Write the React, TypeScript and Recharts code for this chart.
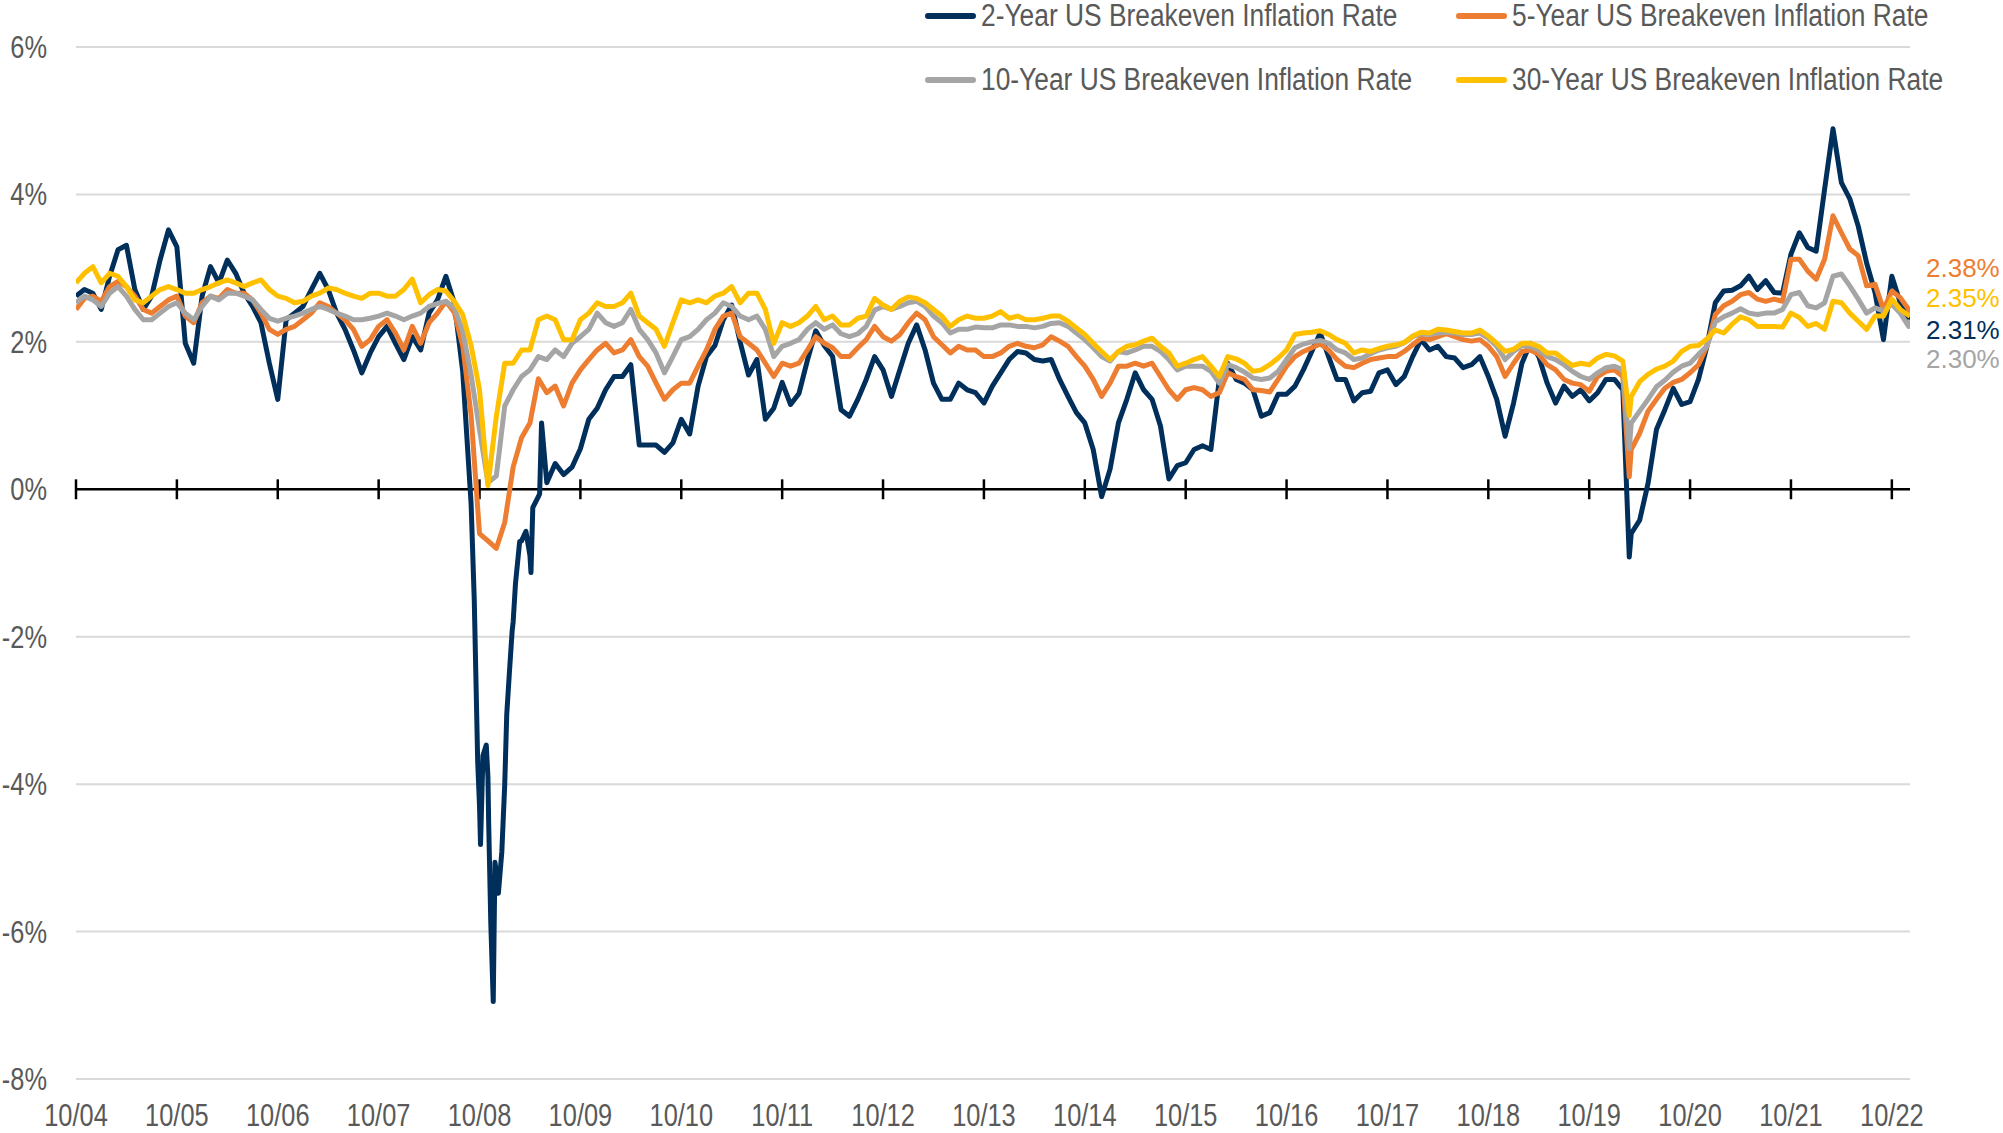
import React from 'react';
import { LineChart, Line, XAxis, YAxis, CartesianGrid, ReferenceLine } from 'recharts';

// month starts, Oct 2004 .. Dec 2022 (decimal years)
const START = 2004.75;
const months = Array.from({ length: 219 }, (_, k) => START + k / 12);

const xTicks = [2004.75, 2005.75, 2006.75, 2007.75, 2008.75, 2009.75, 2010.75, 2011.75, 2012.75, 2013.75, 2014.75, 2015.75, 2016.75, 2017.75, 2018.75, 2019.75, 2020.75, 2021.75, 2022.75];
const xTickLabels = ['10/04', '10/05', '10/06', '10/07', '10/08', '10/09', '10/10', '10/11', '10/12', '10/13', '10/14', '10/15', '10/16', '10/17', '10/18', '10/19', '10/20', '10/21', '10/22'];
const yTicks = [-8, -6, -4, -2, 0, 2, 4, 6];

const be2y = [
  2.62, 2.71, 2.66, 2.44, 2.89, 3.25, 3.31, 2.71, 2.44, 2.62, 3.11, 3.52, 3.29, 1.98, 1.71, 2.62, 3.02, 2.8, 3.11, 2.93,
  2.66, 2.48, 2.26, 1.71, 1.22, 2.3, 2.39, 2.48, 2.71, 2.93, 2.71, 2.39, 2.17, 1.89, 1.58, 1.85, 2.07, 2.21, 1.98, 1.76,
  2.07, 1.89, 2.39, 2.57, 2.89, 2.53, 1.6, -0.2,
  -4.3, -3.9, -5.2, -4.0, -1.8, -0.7, -0.9, -0.1, 0.09, 0.35, 0.2, 0.3, 0.55, 0.95, 1.1, 1.35, 1.53, 1.53, 1.69, 0.6,
  0.6, 0.6, 0.5, 0.63, 0.95, 0.75, 1.4, 1.8, 1.95, 2.3, 2.5, 2.0, 1.55, 1.76, 0.95, 1.1, 1.45, 1.15, 1.3, 1.75, 2.15, 1.95,
  1.8, 1.08, 0.99, 1.22, 1.49, 1.8, 1.62, 1.26, 1.62, 1.98, 2.23, 1.89, 1.44, 1.22, 1.22, 1.44, 1.35, 1.31, 1.17, 1.4,
  1.58, 1.76, 1.87, 1.85, 1.76, 1.74, 1.76, 1.49, 1.26, 1.04, 0.9, 0.54, -0.1, 0.27, 0.9, 1.22, 1.58, 1.35, 1.22, 0.86,
  0.14, 0.32, 0.36, 0.54, 0.59, 0.54, 1.49, 1.71,
  1.49, 1.44, 1.35, 0.99, 1.04, 1.29, 1.29, 1.4, 1.62, 1.87, 2.12, 1.8, 1.49, 1.49, 1.2, 1.31, 1.33, 1.58, 1.62, 1.42,
  1.53, 1.8, 2.03, 1.89, 1.94, 1.8, 1.78, 1.65, 1.69, 1.8, 1.53, 1.22, 0.72, 1.17, 1.71, 1.98, 1.8, 1.44, 1.17, 1.4,
  1.26, 1.35, 1.2, 1.31, 1.49, 1.49, 1.35,
  -0.6, -0.42, 0.08, 0.81, 1.08, 1.37, 1.15, 1.19, 1.49, 1.94, 2.53, 2.69, 2.7, 2.76, 2.89, 2.71, 2.83, 2.67, 2.66, 3.19,
  3.48, 3.28, 3.23, 4.07, 4.89, 4.16, 3.94, 3.57, 3.07, 2.67, 2.03, 2.89, 2.53, 2.3,
];

const be5y = [
  2.44, 2.59, 2.62, 2.55, 2.75, 2.82, 2.75, 2.62, 2.44, 2.39, 2.48, 2.57, 2.62, 2.35, 2.26, 2.53, 2.62, 2.59, 2.71, 2.66,
  2.66, 2.57, 2.39, 2.17, 2.1, 2.17, 2.21, 2.3, 2.39, 2.53, 2.48, 2.39, 2.3, 2.17, 1.94, 2.03, 2.21, 2.3, 2.12, 1.89,
  2.21, 1.98, 2.26, 2.39, 2.55, 2.4, 1.95, 1.0,
  -0.6, -0.7, -0.8, -0.45, 0.3, 0.7, 0.9, 1.5, 1.31, 1.4, 1.13, 1.44, 1.62, 1.76, 1.89, 1.98, 1.85, 1.89, 2.03, 1.8,
  1.67, 1.44, 1.22, 1.35, 1.44, 1.44, 1.67, 1.89, 2.17, 2.35, 2.39, 2.07, 1.98, 1.89, 1.71, 1.53, 1.71, 1.67, 1.71, 1.89,
  2.07, 1.98,
  1.92, 1.8, 1.8, 1.92, 2.03, 2.21, 2.07, 2.01, 2.1, 2.26, 2.39, 2.3, 2.07, 1.96, 1.85, 1.94, 1.89, 1.89, 1.8, 1.8,
  1.85, 1.94, 1.98, 1.94, 1.92, 1.96, 2.07, 2.01, 1.94, 1.8, 1.67, 1.49, 1.26, 1.44, 1.67, 1.67, 1.71, 1.67, 1.71, 1.53,
  1.35, 1.22, 1.35, 1.38, 1.35, 1.26, 1.31, 1.58,
  1.53, 1.49, 1.35, 1.34, 1.32, 1.49, 1.67, 1.8, 1.87, 1.92, 1.97, 1.89, 1.76, 1.67, 1.65, 1.71, 1.76, 1.78, 1.8, 1.8,
  1.87, 1.96, 2.05, 2.03, 2.07, 2.11, 2.07, 2.03, 2.01, 2.03, 1.94, 1.8, 1.53, 1.71, 1.87, 1.89, 1.83, 1.69, 1.62, 1.49,
  1.44, 1.42, 1.33, 1.53, 1.6, 1.62, 1.53,
  0.54, 0.76, 1.06, 1.22, 1.37, 1.45, 1.49, 1.58, 1.69, 1.94, 2.37, 2.49, 2.55, 2.64, 2.67, 2.58, 2.55, 2.58, 2.55, 3.12,
  3.12, 2.96, 2.85, 3.12, 3.71, 3.48, 3.26, 3.17, 2.76, 2.78, 2.44, 2.69, 2.6, 2.44,
];

const be10y = [
  2.53, 2.62, 2.57, 2.48, 2.66, 2.75, 2.62, 2.44, 2.3, 2.3, 2.39, 2.48, 2.53, 2.39, 2.3, 2.48, 2.62, 2.57, 2.66, 2.66,
  2.62, 2.57, 2.44, 2.32, 2.28, 2.32, 2.35, 2.39, 2.44, 2.48, 2.44, 2.39, 2.35, 2.3, 2.3, 2.32, 2.35, 2.39, 2.35, 2.3,
  2.35, 2.39, 2.48, 2.52, 2.55, 2.46, 2.15, 1.55,
  0.81, 0.09, 0.18, 1.13, 1.35, 1.53, 1.62, 1.8, 1.76, 1.89, 1.8, 1.98, 2.07, 2.17, 2.39, 2.26, 2.21, 2.26, 2.44, 2.17,
  2.03, 1.85, 1.58, 1.8, 2.03, 2.07, 2.17, 2.3, 2.39, 2.53, 2.48, 2.35, 2.3, 2.35, 2.17, 1.8, 1.94, 1.98, 2.03, 2.17,
  2.26, 2.17,
  2.23, 2.11, 2.07, 2.11, 2.21, 2.43, 2.48, 2.44, 2.48, 2.53, 2.55, 2.48, 2.35, 2.26, 2.12, 2.17, 2.17, 2.2, 2.19, 2.19,
  2.23, 2.23, 2.21, 2.21, 2.19, 2.21, 2.25, 2.26, 2.21, 2.12, 2.03, 1.92, 1.8, 1.74, 1.87, 1.85, 1.89, 1.94, 1.94, 1.87,
  1.76, 1.62, 1.67, 1.67, 1.67, 1.6, 1.44, 1.69,
  1.65, 1.59, 1.51, 1.49, 1.51, 1.6, 1.76, 1.92, 1.97, 2.0, 2.02, 1.98, 1.89, 1.85, 1.76, 1.78, 1.84, 1.89, 1.92, 1.94,
  1.99, 2.07, 2.11, 2.1, 2.12, 2.13, 2.12, 2.1, 2.1, 2.12, 2.05, 1.94, 1.76, 1.87, 1.95, 1.94, 1.89, 1.8, 1.76, 1.69,
  1.6, 1.53, 1.49, 1.58, 1.65, 1.67, 1.62,
  0.9, 1.06, 1.22, 1.39, 1.48, 1.59, 1.67, 1.71, 1.83, 1.94, 2.27, 2.34, 2.39, 2.45, 2.39, 2.37, 2.39, 2.39, 2.44, 2.64,
  2.67, 2.49, 2.46, 2.53, 2.89, 2.92, 2.76, 2.58, 2.39, 2.46, 2.42, 2.51, 2.39, 2.21,
];

const be30y = [
  2.8, 2.93, 3.02, 2.8, 2.93, 2.89, 2.75, 2.57, 2.53, 2.62, 2.71, 2.75, 2.71, 2.66, 2.66, 2.71, 2.75, 2.8, 2.84, 2.8,
  2.75, 2.8, 2.84, 2.71, 2.62, 2.59, 2.53, 2.55, 2.62, 2.66, 2.73, 2.71, 2.66, 2.62, 2.59, 2.66, 2.66, 2.62, 2.62, 2.71,
  2.85, 2.53, 2.64, 2.71, 2.69, 2.55, 2.37, 1.95,
  1.35, 0.05, 0.99, 1.71, 1.71, 1.89, 1.89, 2.3, 2.35, 2.3, 2.03, 2.03, 2.3, 2.39, 2.53, 2.48, 2.48, 2.53, 2.66, 2.35,
  2.26, 2.17, 1.94, 2.26, 2.57, 2.53, 2.57, 2.53, 2.62, 2.66, 2.75, 2.53, 2.66, 2.66, 2.44, 1.98, 2.26, 2.21, 2.26, 2.35,
  2.48, 2.3,
  2.35, 2.23, 2.23, 2.32, 2.35, 2.59, 2.5, 2.44, 2.55, 2.61, 2.59, 2.53, 2.44, 2.35, 2.21, 2.3, 2.35, 2.32, 2.32, 2.35,
  2.41, 2.32, 2.35, 2.3, 2.3, 2.32, 2.35, 2.35, 2.28, 2.19, 2.1, 1.98, 1.87, 1.76, 1.87, 1.94, 1.96, 2.01, 2.05, 1.94,
  1.85, 1.67, 1.71, 1.76, 1.8, 1.67, 1.53, 1.8,
  1.77, 1.71, 1.6, 1.62, 1.69, 1.78, 1.89, 2.1, 2.12, 2.13, 2.15, 2.1, 2.03, 1.98, 1.85, 1.89, 1.87, 1.91, 1.94, 1.96,
  1.99, 2.08, 2.13, 2.12, 2.17, 2.16, 2.14, 2.12, 2.12, 2.16, 2.08, 1.98, 1.87, 1.9, 1.98, 1.98, 1.94, 1.85, 1.85, 1.76,
  1.68, 1.71, 1.69, 1.78, 1.83, 1.81, 1.74,
  1.26, 1.46, 1.56, 1.63, 1.67, 1.74, 1.87, 1.94, 1.95, 2.04, 2.16, 2.12, 2.24, 2.34, 2.3, 2.21, 2.21, 2.21, 2.2, 2.39,
  2.33, 2.21, 2.25, 2.17, 2.55, 2.53, 2.39, 2.28, 2.17, 2.35, 2.35, 2.58, 2.44, 2.36,
];

// covid low and last print
const extraDates = [2020.147, 2022.93];
const extra2y = [-0.92, 2.31];
const extra5y = [0.17, 2.38];
const extra10y = [0.55, 2.3];
const extra30y = [1.0, 2.35];

// 2-year detail through the 2008 collapse
const crashDates2y = [2008.698, 2008.732, 2008.76, 2008.784, 2008.817, 2008.841, 2008.862, 2008.886, 2008.903, 2008.937, 2008.971, 2009.02, 2009.046, 2009.073, 2009.107, 2009.148, 2009.21, 2009.26, 2009.278, 2009.346, 2009.365];
const crashValues2y = [-1.51, -3.7, -4.82, -3.61, -3.47, -4.54, -5.9, -6.95, -5.06, -5.48, -4.92, -3.05, -2.49, -1.93, -1.27, -0.71, -0.57, -1.13, -0.25, -0.06, 0.9];

function build(values: number[], extras: number[], cd: number[] = [], cv: number[] = []) {
  const pts = months.map((t, i) => ({ t, v: values[i] }));
  extraDates.forEach((t, i) => pts.push({ t, v: extras[i] }));
  cd.forEach((t, i) => pts.push({ t, v: cv[i] }));
  return pts.sort((a, b) => a.t - b.t);
}

const FONT = '"Liberation Sans", Arial, sans-serif';
const TEXT = '#595959';

const series = [
  { name: '2-Year US Breakeven Inflation Rate', color: '#002F5C', data: build(be2y, extra2y, crashDates2y, crashValues2y), dy: 11 },
  { name: '5-Year US Breakeven Inflation Rate', color: '#ED7D31', data: build(be5y, extra5y), dy: -46 },
  { name: '10-Year US Breakeven Inflation Rate', color: '#A5A5A5', data: build(be10y, extra10y), dy: 39 },
  { name: '30-Year US Breakeven Inflation Rate', color: '#FFC000', data: build(be30y, extra30y), dy: -18 },
];

function NarrowText({ x, y, anchor, children }: any) {
  return (
    <g transform={`translate(${x},${y}) scale(0.82,1)`}>
      <text x={0} y={0} textAnchor={anchor} dominantBaseline="central" fontSize={31} fill={TEXT} fontFamily={FONT}>
        {children}
      </text>
    </g>
  );
}

function XTick({ x, y, payload }: any) {
  const i = xTicks.indexOf(payload.value);
  return <NarrowText x={x} y={y} anchor="middle">{xTickLabels[i]}</NarrowText>;
}

function YTick({ x, y, payload }: any) {
  return <NarrowText x={x} y={y} anchor="end">{`${payload.value}%`}</NarrowText>;
}

const endLabel = (color: string, dy: number, last: number) => (props: any) => {
  const { x, y, index, value } = props;
  if (index !== last) return <g />;
  return (
    <text x={x + 16} y={y + dy} fill={color} fontSize={26} fontFamily={FONT} dominantBaseline="central">
      {Number(value).toFixed(2)}%
    </text>
  );
};

const legendPos = [
  { left: 925, top: 16 },
  { left: 1456, top: 16 },
  { left: 925, top: 80 },
  { left: 1456, top: 80 },
];

export default function App() {
  return (
    <div style={{ position: 'absolute', left: 0, top: 0, width: 2003, height: 1133, background: '#fff' }}>
      <LineChart width={2003} height={1133} margin={{ top: 47, right: 93, bottom: 0, left: 0 }}>
        <CartesianGrid vertical={false} stroke="#D9D9D9" strokeWidth={2} />
        <XAxis
          type="number"
          dataKey="t"
          domain={[2004.75, 2022.93]}
          ticks={xTicks}
          allowDataOverflow
          axisLine={false}
          tickLine={false}
          tickSize={0}
          tickMargin={36}
          height={54}
          interval={0}
          tick={<XTick />}
        />
        <YAxis
          type="number"
          domain={[-8, 6]}
          ticks={yTicks}
          allowDataOverflow
          axisLine={false}
          tickLine={false}
          tickSize={0}
          tickMargin={29}
          width={76}
          interval={0}
          tick={<YTick />}
        />
        <ReferenceLine y={0} stroke="#000" strokeWidth={2.5} />
        {xTicks.map((t) => (
          <ReferenceLine
            key={t}
            segment={[{ x: t, y: -0.135 }, { x: t, y: 0.135 }]}
            stroke="#000"
            strokeWidth={2.5}
            ifOverflow="visible"
          />
        ))}
        {series.map((s) => (
          <Line
            key={s.name}
            data={s.data}
            dataKey="v"
            name={s.name}
            type="linear"
            stroke={s.color}
            strokeWidth={5}
            strokeLinejoin="round"
            dot={false}
            activeDot={false}
            isAnimationActive={false}
            label={endLabel(s.color, s.dy, s.data.length - 1)}
          />
        ))}
      </LineChart>
      {series.map((s, i) => (
        <div key={s.name} style={{ position: 'absolute', left: legendPos[i].left, top: legendPos[i].top - 18, height: 36, display: 'flex', alignItems: 'center' }}>
          <span style={{ display: 'inline-block', width: 51, height: 6, borderRadius: 3, background: s.color }} />
          <span
            style={{
              display: 'inline-block',
              marginLeft: 5,
              fontFamily: FONT,
              fontSize: 31,
              lineHeight: '36px',
              color: TEXT,
              whiteSpace: 'nowrap',
              transform: 'scaleX(0.85)',
              transformOrigin: 'left center',
            }}
          >
            {s.name}
          </span>
        </div>
      ))}
    </div>
  );
}
